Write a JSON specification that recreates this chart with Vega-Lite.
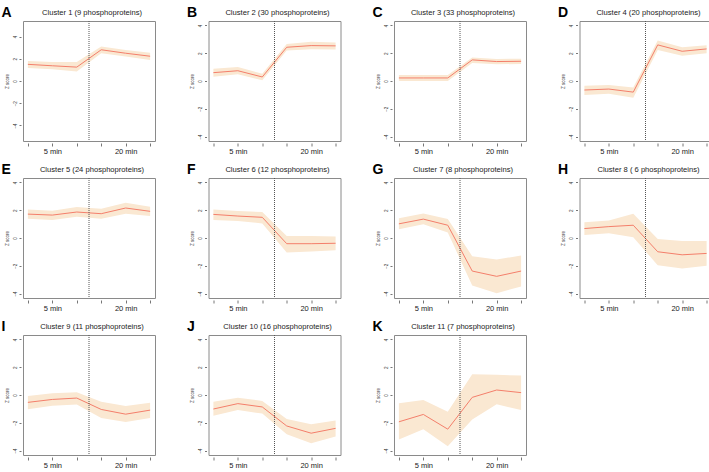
{
"$schema":"https://vega.github.io/schema/vega-lite/v6.json",
"padding":{"left":0,"top":4,"right":0,"bottom":0},
"datasets":{"z":[
{"c":1,"t":1,"m":1.50,"lo":1.17,"hi":1.80},{"c":1,"t":2,"m":1.37,"lo":1.05,"hi":1.70},{"c":1,"t":3,"m":1.25,"lo":0.85,"hi":1.71},{"c":1,"t":4,"m":2.81,"lo":2.50,"hi":3.10},{"c":1,"t":5,"m":2.50,"lo":2.20,"hi":2.80},{"c":1,"t":6,"m":2.23,"lo":1.90,"hi":2.55},
{"c":2,"t":1,"m":0.60,"lo":0.31,"hi":0.88},{"c":2,"t":2,"m":0.74,"lo":0.48,"hi":1.00},{"c":2,"t":3,"m":0.29,"lo":0.05,"hi":0.52},{"c":2,"t":4,"m":2.43,"lo":2.20,"hi":2.67},{"c":2,"t":5,"m":2.55,"lo":2.29,"hi":2.82},{"c":2,"t":6,"m":2.53,"lo":2.27,"hi":2.77},
{"c":3,"t":1,"m":0.22,"lo":0.00,"hi":0.43},{"c":3,"t":2,"m":0.22,"lo":0.00,"hi":0.43},{"c":3,"t":3,"m":0.22,"lo":0.00,"hi":0.43},{"c":3,"t":4,"m":1.52,"lo":1.30,"hi":1.69},{"c":3,"t":5,"m":1.40,"lo":1.20,"hi":1.59},{"c":3,"t":6,"m":1.42,"lo":1.23,"hi":1.61},
{"c":4,"t":1,"m":-0.65,"lo":-1.01,"hi":-0.34},{"c":4,"t":2,"m":-0.58,"lo":-0.92,"hi":-0.29},{"c":4,"t":3,"m":-0.80,"lo":-1.20,"hi":-0.46},{"c":4,"t":4,"m":2.60,"lo":2.24,"hi":2.92},{"c":4,"t":5,"m":2.14,"lo":1.81,"hi":2.43},{"c":4,"t":6,"m":2.31,"lo":2.00,"hi":2.58},
{"c":5,"t":1,"m":1.72,"lo":1.39,"hi":2.06},{"c":5,"t":2,"m":1.65,"lo":1.29,"hi":1.96},{"c":5,"t":3,"m":1.87,"lo":1.53,"hi":2.23},{"c":5,"t":4,"m":1.75,"lo":1.39,"hi":2.11},{"c":5,"t":5,"m":2.16,"lo":1.75,"hi":2.54},{"c":5,"t":6,"m":1.92,"lo":1.58,"hi":2.25},
{"c":6,"t":1,"m":1.70,"lo":1.29,"hi":2.06},{"c":6,"t":2,"m":1.58,"lo":1.22,"hi":1.94},{"c":6,"t":3,"m":1.49,"lo":1.05,"hi":1.87},{"c":6,"t":4,"m":-0.41,"lo":-1.05,"hi":0.14},{"c":6,"t":5,"m":-0.41,"lo":-0.98,"hi":0.14},{"c":6,"t":6,"m":-0.38,"lo":-0.89,"hi":0.10},
{"c":7,"t":1,"m":1.02,"lo":0.63,"hi":1.43},{"c":7,"t":2,"m":1.36,"lo":0.99,"hi":1.77},{"c":7,"t":3,"m":0.92,"lo":0.39,"hi":1.36},{"c":7,"t":4,"m":-2.38,"lo":-3.42,"hi":-1.31},{"c":7,"t":5,"m":-2.76,"lo":-3.98,"hi":-1.55},{"c":7,"t":6,"m":-2.38,"lo":-3.49,"hi":-1.26},
{"c":8,"t":1,"m":0.68,"lo":0.22,"hi":1.14},{"c":8,"t":2,"m":0.82,"lo":0.34,"hi":1.26},{"c":8,"t":3,"m":0.92,"lo":0.05,"hi":1.74},{"c":8,"t":4,"m":-0.99,"lo":-1.96,"hi":-0.07},{"c":8,"t":5,"m":-1.21,"lo":-2.20,"hi":-0.22},{"c":8,"t":6,"m":-1.11,"lo":-2.00,"hi":-0.22},
{"c":9,"t":1,"m":-0.53,"lo":-1.02,"hi":-0.07},{"c":9,"t":2,"m":-0.32,"lo":-0.78,"hi":0.12},{"c":9,"t":3,"m":-0.22,"lo":-0.68,"hi":0.19},{"c":9,"t":4,"m":-1.04,"lo":-1.65,"hi":-0.48},{"c":9,"t":5,"m":-1.38,"lo":-1.94,"hi":-0.80},{"c":9,"t":6,"m":-1.09,"lo":-1.65,"hi":-0.56},
{"c":10,"t":1,"m":-1.01,"lo":-1.49,"hi":-0.48},{"c":10,"t":2,"m":-0.62,"lo":-1.08,"hi":-0.19},{"c":10,"t":3,"m":-0.86,"lo":-1.34,"hi":-0.43},{"c":10,"t":4,"m":-2.23,"lo":-2.83,"hi":-1.72},{"c":10,"t":5,"m":-2.75,"lo":-3.47,"hi":-2.11},{"c":10,"t":6,"m":-2.40,"lo":-2.99,"hi":-1.84},
{"c":11,"t":1,"m":-1.93,"lo":-3.20,"hi":-0.60},{"c":11,"t":2,"m":-1.40,"lo":-2.46,"hi":-0.36},{"c":11,"t":3,"m":-2.46,"lo":-3.69,"hi":-1.20},{"c":11,"t":4,"m":-0.17,"lo":-1.76,"hi":1.49},{"c":11,"t":5,"m":0.36,"lo":-0.67,"hi":1.45},{"c":11,"t":6,"m":0.17,"lo":-1.08,"hi":1.40}
],
"cut":[{"t":3.5}]},
"columns":4,
"spacing":{"row":6,"column":29.5},
"concat":[
{"width":132,"height":120,"title":"Cluster 1 (9 phosphoproteins)",
 "encoding":{"x":{"field":"t","type":"quantitative","scale":{"domain":[0.8,6.2],"nice":false,"zero":false},"axis":{"title":"A","values":[1,2,3,4,5,6],"tickCount":6,"labelExpr":"datum.value==2?'5 min':datum.value==5?'20 min':''"}}},
 "layer":[
  {"data":{"name":"z"},"transform":[{"filter":"datum.c==1"}],"mark":{"type":"area","color":"#fae8d2"},"encoding":{"y":{"field":"lo","type":"quantitative","scale":{"domain":[-5.4,5.4],"nice":false,"zero":false},"axis":{"title":"Z score","values":[-4,-2,0,2,4],"tickCount":5,"labelOverlap":false}},"y2":{"field":"hi"}}},
  {"data":{"name":"z"},"transform":[{"filter":"datum.c==1"}],"mark":{"type":"line","color":"#f47f6b","strokeWidth":1},"encoding":{"y":{"field":"m","type":"quantitative"}}},
  {"data":{"name":"cut"},"mark":{"type":"rule","color":"#555","strokeDash":[1,1],"strokeWidth":1},"encoding":{}}
 ]},
{"width":132,"height":120,"title":"Cluster 2 (30 phosphoproteins)",
 "encoding":{"x":{"field":"t","type":"quantitative","scale":{"domain":[0.8,6.2],"nice":false,"zero":false},"axis":{"title":"B","values":[1,2,3,4,5,6],"tickCount":6,"labelExpr":"datum.value==2?'5 min':datum.value==5?'20 min':''"}}},
 "layer":[
  {"data":{"name":"z"},"transform":[{"filter":"datum.c==2"}],"mark":{"type":"area","color":"#fae8d2"},"encoding":{"y":{"field":"lo","type":"quantitative","scale":{"domain":[-4.32,4.32],"nice":false,"zero":false},"axis":{"title":"Z score","values":[-4,-2,0,2,4],"tickCount":5,"labelOverlap":false}},"y2":{"field":"hi"}}},
  {"data":{"name":"z"},"transform":[{"filter":"datum.c==2"}],"mark":{"type":"line","color":"#f47f6b","strokeWidth":1},"encoding":{"y":{"field":"m","type":"quantitative"}}},
  {"data":{"name":"cut"},"mark":{"type":"rule","color":"#555","strokeDash":[1,1],"strokeWidth":1},"encoding":{}}
 ]},
{"width":132,"height":120,"title":"Cluster 3 (33 phosphoproteins)",
 "encoding":{"x":{"field":"t","type":"quantitative","scale":{"domain":[0.8,6.2],"nice":false,"zero":false},"axis":{"title":"C","values":[1,2,3,4,5,6],"tickCount":6,"labelExpr":"datum.value==2?'5 min':datum.value==5?'20 min':''"}}},
 "layer":[
  {"data":{"name":"z"},"transform":[{"filter":"datum.c==3"}],"mark":{"type":"area","color":"#fae8d2"},"encoding":{"y":{"field":"lo","type":"quantitative","scale":{"domain":[-4.32,4.32],"nice":false,"zero":false},"axis":{"title":"Z score","values":[-4,-2,0,2,4],"tickCount":5,"labelOverlap":false}},"y2":{"field":"hi"}}},
  {"data":{"name":"z"},"transform":[{"filter":"datum.c==3"}],"mark":{"type":"line","color":"#f47f6b","strokeWidth":1},"encoding":{"y":{"field":"m","type":"quantitative"}}},
  {"data":{"name":"cut"},"mark":{"type":"rule","color":"#555","strokeDash":[1,1],"strokeWidth":1},"encoding":{}}
 ]},
{"width":132,"height":120,"title":"Cluster 4 (20 phosphoproteins)",
 "encoding":{"x":{"field":"t","type":"quantitative","scale":{"domain":[0.8,6.2],"nice":false,"zero":false},"axis":{"title":"D","values":[1,2,3,4,5,6],"tickCount":6,"labelExpr":"datum.value==2?'5 min':datum.value==5?'20 min':''"}}},
 "layer":[
  {"data":{"name":"z"},"transform":[{"filter":"datum.c==4"}],"mark":{"type":"area","color":"#fae8d2"},"encoding":{"y":{"field":"lo","type":"quantitative","scale":{"domain":[-4.32,4.32],"nice":false,"zero":false},"axis":{"title":"Z score","values":[-4,-2,0,2,4],"tickCount":5,"labelOverlap":false}},"y2":{"field":"hi"}}},
  {"data":{"name":"z"},"transform":[{"filter":"datum.c==4"}],"mark":{"type":"line","color":"#f47f6b","strokeWidth":1},"encoding":{"y":{"field":"m","type":"quantitative"}}},
  {"data":{"name":"cut"},"mark":{"type":"rule","color":"#555","strokeDash":[1,1],"strokeWidth":1},"encoding":{}}
 ]},
{"width":132,"height":120,"title":"Cluster 5 (24 phosphoproteins)",
 "encoding":{"x":{"field":"t","type":"quantitative","scale":{"domain":[0.8,6.2],"nice":false,"zero":false},"axis":{"title":"E","values":[1,2,3,4,5,6],"tickCount":6,"labelExpr":"datum.value==2?'5 min':datum.value==5?'20 min':''"}}},
 "layer":[
  {"data":{"name":"z"},"transform":[{"filter":"datum.c==5"}],"mark":{"type":"area","color":"#fae8d2"},"encoding":{"y":{"field":"lo","type":"quantitative","scale":{"domain":[-4.32,4.32],"nice":false,"zero":false},"axis":{"title":"Z score","values":[-4,-2,0,2,4],"tickCount":5,"labelOverlap":false}},"y2":{"field":"hi"}}},
  {"data":{"name":"z"},"transform":[{"filter":"datum.c==5"}],"mark":{"type":"line","color":"#f47f6b","strokeWidth":1},"encoding":{"y":{"field":"m","type":"quantitative"}}},
  {"data":{"name":"cut"},"mark":{"type":"rule","color":"#555","strokeDash":[1,1],"strokeWidth":1},"encoding":{}}
 ]},
{"width":132,"height":120,"title":"Cluster 6 (12 phosphoproteins)",
 "encoding":{"x":{"field":"t","type":"quantitative","scale":{"domain":[0.8,6.2],"nice":false,"zero":false},"axis":{"title":"F","values":[1,2,3,4,5,6],"tickCount":6,"labelExpr":"datum.value==2?'5 min':datum.value==5?'20 min':''"}}},
 "layer":[
  {"data":{"name":"z"},"transform":[{"filter":"datum.c==6"}],"mark":{"type":"area","color":"#fae8d2"},"encoding":{"y":{"field":"lo","type":"quantitative","scale":{"domain":[-4.32,4.32],"nice":false,"zero":false},"axis":{"title":"Z score","values":[-4,-2,0,2,4],"tickCount":5,"labelOverlap":false}},"y2":{"field":"hi"}}},
  {"data":{"name":"z"},"transform":[{"filter":"datum.c==6"}],"mark":{"type":"line","color":"#f47f6b","strokeWidth":1},"encoding":{"y":{"field":"m","type":"quantitative"}}},
  {"data":{"name":"cut"},"mark":{"type":"rule","color":"#555","strokeDash":[1,1],"strokeWidth":1},"encoding":{}}
 ]},
{"width":132,"height":120,"title":"Cluster 7 (8 phosphoproteins)",
 "encoding":{"x":{"field":"t","type":"quantitative","scale":{"domain":[0.8,6.2],"nice":false,"zero":false},"axis":{"title":"G","values":[1,2,3,4,5,6],"tickCount":6,"labelExpr":"datum.value==2?'5 min':datum.value==5?'20 min':''"}}},
 "layer":[
  {"data":{"name":"z"},"transform":[{"filter":"datum.c==7"}],"mark":{"type":"area","color":"#fae8d2"},"encoding":{"y":{"field":"lo","type":"quantitative","scale":{"domain":[-4.32,4.32],"nice":false,"zero":false},"axis":{"title":"Z score","values":[-4,-2,0,2,4],"tickCount":5,"labelOverlap":false}},"y2":{"field":"hi"}}},
  {"data":{"name":"z"},"transform":[{"filter":"datum.c==7"}],"mark":{"type":"line","color":"#f47f6b","strokeWidth":1},"encoding":{"y":{"field":"m","type":"quantitative"}}},
  {"data":{"name":"cut"},"mark":{"type":"rule","color":"#555","strokeDash":[1,1],"strokeWidth":1},"encoding":{}}
 ]},
{"width":132,"height":120,"title":"Cluster 8 ( 6 phosphoproteins)",
 "encoding":{"x":{"field":"t","type":"quantitative","scale":{"domain":[0.8,6.2],"nice":false,"zero":false},"axis":{"title":"H","values":[1,2,3,4,5,6],"tickCount":6,"labelExpr":"datum.value==2?'5 min':datum.value==5?'20 min':''"}}},
 "layer":[
  {"data":{"name":"z"},"transform":[{"filter":"datum.c==8"}],"mark":{"type":"area","color":"#fae8d2"},"encoding":{"y":{"field":"lo","type":"quantitative","scale":{"domain":[-4.32,4.32],"nice":false,"zero":false},"axis":{"title":"Z score","values":[-4,-2,0,2,4],"tickCount":5,"labelOverlap":false}},"y2":{"field":"hi"}}},
  {"data":{"name":"z"},"transform":[{"filter":"datum.c==8"}],"mark":{"type":"line","color":"#f47f6b","strokeWidth":1},"encoding":{"y":{"field":"m","type":"quantitative"}}},
  {"data":{"name":"cut"},"mark":{"type":"rule","color":"#555","strokeDash":[1,1],"strokeWidth":1},"encoding":{}}
 ]},
{"width":132,"height":120,"title":"Cluster 9 (11 phosphoproteins)",
 "encoding":{"x":{"field":"t","type":"quantitative","scale":{"domain":[0.8,6.2],"nice":false,"zero":false},"axis":{"title":"I","values":[1,2,3,4,5,6],"tickCount":6,"labelExpr":"datum.value==2?'5 min':datum.value==5?'20 min':''"}}},
 "layer":[
  {"data":{"name":"z"},"transform":[{"filter":"datum.c==9"}],"mark":{"type":"area","color":"#fae8d2"},"encoding":{"y":{"field":"lo","type":"quantitative","scale":{"domain":[-4.32,4.32],"nice":false,"zero":false},"axis":{"title":"Z score","values":[-4,-2,0,2,4],"tickCount":5,"labelOverlap":false}},"y2":{"field":"hi"}}},
  {"data":{"name":"z"},"transform":[{"filter":"datum.c==9"}],"mark":{"type":"line","color":"#f47f6b","strokeWidth":1},"encoding":{"y":{"field":"m","type":"quantitative"}}},
  {"data":{"name":"cut"},"mark":{"type":"rule","color":"#555","strokeDash":[1,1],"strokeWidth":1},"encoding":{}}
 ]},
{"width":132,"height":120,"title":"Cluster 10 (16 phosphoproteins)",
 "encoding":{"x":{"field":"t","type":"quantitative","scale":{"domain":[0.8,6.2],"nice":false,"zero":false},"axis":{"title":"J","values":[1,2,3,4,5,6],"tickCount":6,"labelExpr":"datum.value==2?'5 min':datum.value==5?'20 min':''"}}},
 "layer":[
  {"data":{"name":"z"},"transform":[{"filter":"datum.c==10"}],"mark":{"type":"area","color":"#fae8d2"},"encoding":{"y":{"field":"lo","type":"quantitative","scale":{"domain":[-4.32,4.32],"nice":false,"zero":false},"axis":{"title":"Z score","values":[-4,-2,0,2,4],"tickCount":5,"labelOverlap":false}},"y2":{"field":"hi"}}},
  {"data":{"name":"z"},"transform":[{"filter":"datum.c==10"}],"mark":{"type":"line","color":"#f47f6b","strokeWidth":1},"encoding":{"y":{"field":"m","type":"quantitative"}}},
  {"data":{"name":"cut"},"mark":{"type":"rule","color":"#555","strokeDash":[1,1],"strokeWidth":1},"encoding":{}}
 ]},
{"width":132,"height":120,"title":"Cluster 11 (7 phosphoproteins)",
 "encoding":{"x":{"field":"t","type":"quantitative","scale":{"domain":[0.8,6.2],"nice":false,"zero":false},"axis":{"title":"K","values":[1,2,3,4,5,6],"tickCount":6,"labelExpr":"datum.value==2?'5 min':datum.value==5?'20 min':''"}}},
 "layer":[
  {"data":{"name":"z"},"transform":[{"filter":"datum.c==11"}],"mark":{"type":"area","color":"#fae8d2"},"encoding":{"y":{"field":"lo","type":"quantitative","scale":{"domain":[-4.32,4.32],"nice":false,"zero":false},"axis":{"title":"Z score","values":[-4,-2,0,2,4],"tickCount":5,"labelOverlap":false}},"y2":{"field":"hi"}}},
  {"data":{"name":"z"},"transform":[{"filter":"datum.c==11"}],"mark":{"type":"line","color":"#f47f6b","strokeWidth":1},"encoding":{"y":{"field":"m","type":"quantitative"}}},
  {"data":{"name":"cut"},"mark":{"type":"rule","color":"#555","strokeDash":[1,1],"strokeWidth":1},"encoding":{}}
 ]}
],
"config":{
 "font":"Liberation Sans",
 "view":{"stroke":"#8a8a8a","strokeWidth":1},
 "title":{"fontSize":7.6,"fontWeight":"normal","color":"#222","offset":-12,"dx":3,"frame":"group","anchor":"middle"},
 "axisX":{"domain":false,"grid":false,"tickSize":3,"tickColor":"#777","offset":2,"labelFontSize":7.5,"labelPadding":1,"labelColor":"#222","labelFlush":false,"labelOverlap":false,"titleX":-22,"titleY":-131,"titleAlign":"left","titleBaseline":"middle","titleAngle":0,"titleFontSize":14,"titleFontWeight":"bold","titleColor":"#000","titlePadding":0},
 "axisY":{"domain":false,"grid":false,"tickSize":2,"tickColor":"#777","offset":2,"labelFontSize":4.5,"labelAngle":270,"labelAlign":"center","labelBaseline":"bottom","labelPadding":2,"labelColor":"#333","labelOverlap":false,"titleFontSize":4.5,"titleFontWeight":"normal","titleColor":"#333","titlePadding":3}
}
}
